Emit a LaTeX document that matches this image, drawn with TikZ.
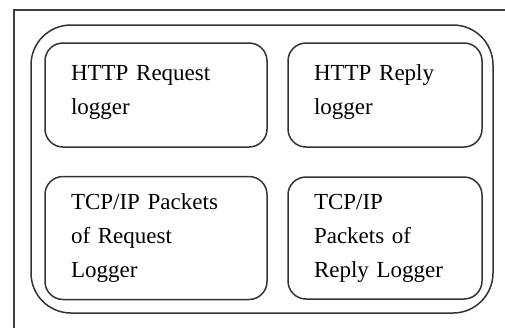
\documentclass[tikz,border=0pt]{standalone}
\usepackage{fontspec}
\setmainfont{Liberation Serif}
\usepackage{tikz}

\begin{document}
\begin{tikzpicture}[x=1pt, y=-1pt, font=\fontsize{23}{34}\selectfont,
    logbox/.style={draw=black!80, line width=1.5pt, rounded corners=18pt, align=left, inner xsep=26pt, inner ysep=0pt}]
  \useasboundingbox (0,0) rectangle (505,327);
  % page frame, cut off at right and bottom
  \coordinate (frame) at (14,10);
  \draw[black!75, line width=1.2pt] (510,10) -- (frame) -- (14,332);
  % container
  \node[draw=black!80, line width=1.5pt, rounded corners=40pt, minimum width=462pt, minimum height=288pt] (loggers) at (262,169) {};
  \node[logbox, minimum width=222pt, minimum height=104pt, text width=170pt, text depth=45pt] (httpreq) at (156,95) {HTTP Request\\logger};
  \node[logbox, minimum width=194pt, minimum height=104pt, text width=142pt, text depth=45pt] (httprep) at (385,95) {HTTP Reply\\logger};
  \node[logbox, minimum width=222pt, minimum height=123pt, text width=170pt] (tcpreq) at (156,238) {TCP/IP Packets\\of Request\\Logger};
  \node[logbox, minimum width=194pt, minimum height=122pt, text width=142pt] (tcprep) at (385,238) {TCP/IP\\Packets of\\Reply Logger};
\end{tikzpicture}
\end{document}
